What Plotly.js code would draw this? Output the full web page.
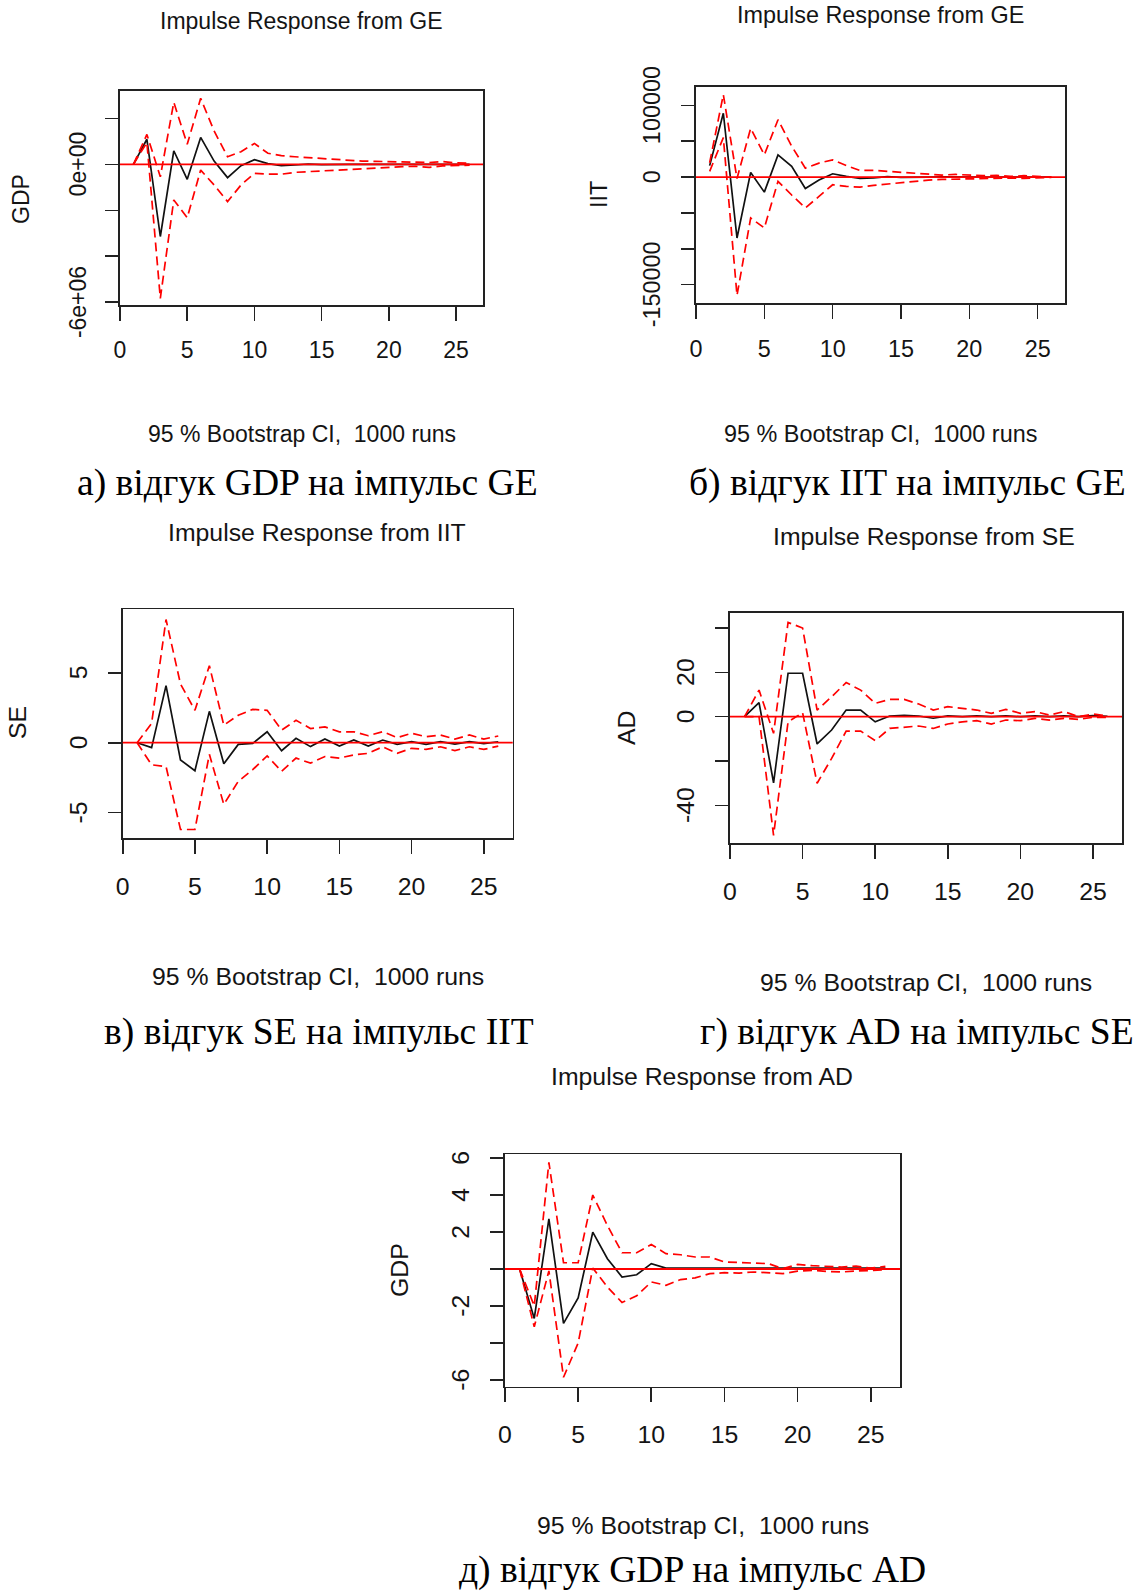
<!DOCTYPE html>
<html><head><meta charset="utf-8">
<script src="https://cdn.plot.ly/plotly-3.0.1.min.js"></script>
<style>html,body{margin:0;padding:0;background:#fff;overflow:hidden}#chart{width:1140px;height:1591px}</style>
</head><body><div id="chart"></div>
<script>
// ---------- data ----------
const horizon = [1,2,3,4,5,6,7,8,9,10,11,12,13,14,15,16,17,18,19,20,21,22,23,24,25,26];
const xTickVals = [0,5,10,15,20,25];

// a) GDP response to GE impulse
const irfGdpGe   = [0,1090000,-3140000,590000,-650000,1170000,140000,-580000,-60000,200000,30000,-60000,-30000,10000,-10000,10000,0,0,5000,0,0,0,0,0,0,0];
const upperGdpGe = [0,1300000,-540000,2700000,870000,2870000,1450000,330000,550000,910000,480000,380000,330000,290000,260000,190000,160000,140000,130000,120000,110000,120000,80000,120000,60000,50000];
const lowerGdpGe = [0,950000,-5830000,-1550000,-2320000,-250000,-900000,-1620000,-900000,-390000,-430000,-430000,-350000,-320000,-290000,-250000,-220000,-170000,-140000,-130000,-100000,-90000,-130000,-70000,-60000,-40000];
const yTickValsGdpGe = [-6000000,-4000000,-2000000,0,2000000];
const yTickTextGdpGe = ['-6e+06','','','0e+00',''];

// b) IIT response to GE impulse
const irfIitGe   = [16000,89000,-85000,6500,-21000,31000,15000,-16000,-4000,4600,1000,-2000,-1000,500,-300,300,0,200,-100,100,0,100,-100,0,100,0];
const upperIitGe = [20000,115000,-2000,68000,31000,80000,43000,12500,19500,24000,16000,9300,9300,8000,7400,6000,5000,2800,3700,2800,1900,2300,900,1900,1400,0];
const lowerIitGe = [8000,55000,-165000,-57000,-71000,-6000,-25000,-43000,-27000,-10700,-13000,-14000,-11600,-9700,-7400,-5600,-4200,-3300,-2800,-2300,-1900,-2300,-1400,-1900,-900,-500];
const yTickValsIitGe = [-150000,-100000,-50000,0,50000,100000];
const yTickTextIitGe = ['-150000','','','0','','100000'];

// c) SE response to IIT impulse
const irfSeIit   = [0,-0.35,4.08,-1.23,-2.0,2.24,-1.51,-0.12,-0.05,0.78,-0.57,0.31,-0.28,0.26,-0.24,0.19,-0.24,0.19,-0.12,0.07,-0.12,0.07,-0.1,0.07,-0.07,0.07];
const upperSeIit = [0,1.37,8.8,4.2,2.31,5.5,1.25,1.96,2.38,2.31,0.9,1.6,1.01,1.13,0.78,0.78,0.5,0.79,0.36,0.67,0.43,0.55,0.26,0.55,0.26,0.48];
const lowerSeIit = [0,-1.58,-1.7,-6.2,-6.2,-0.83,-4.41,-2.76,-1.93,-0.94,-2.05,-1.1,-1.46,-0.99,-1.1,-0.87,-0.76,-0.29,-0.76,-0.4,-0.48,-0.29,-0.57,-0.29,-0.48,-0.24];
const yTickValsSeIit = [-5,0,5];
const yTickTextSeIit = ['-5','0','5'];

// d) AD response to SE impulse
const irfAdSe   = [0,6.3,-29.8,19.6,19.6,-12.3,-6,3.0,3.0,-2.3,0.3,0.6,0.3,-0.7,0.4,0,0.4,0,0.4,0,0.4,0,0.4,0,0.5,0.2];
const upperAdSe = [0,12.0,-7.5,42.5,40,3.0,9.0,15.4,12.0,6.0,7.8,7.8,5.7,3.0,4.5,3.8,3.0,1.5,3.3,1.5,2.3,0.75,2.3,0,1.2,0.3];
const lowerAdSe = [0,0,-53.5,-2.3,1.8,-30,-18.8,-6.5,-6.5,-10.8,-5.3,-4.8,-4.2,-5.3,-3.3,-2.3,-1.8,-3.3,-1.5,-1.8,-0.75,-1.5,-0.75,-1.2,-0.3,-0.3];
const yTickValsAdSe = [-40,-20,0,20,40];
const yTickTextAdSe = ['-40','','0','20',''];

// e) GDP response to AD impulse
const irfGdpAd   = [0,-2.67,2.71,-2.94,-1.56,1.99,0.56,-0.43,-0.31,0.29,0.05,0.05,0.02,0.04,0.02,0.04,0.03,0.04,0.02,0.05,0.02,0.05,0.03,0.05,0.03,0.05];
const upperGdpAd = [0,-2.0,5.76,0.34,0.34,4.0,2.35,0.88,0.88,1.33,0.83,0.77,0.65,0.65,0.38,0.34,0.32,0.29,0.02,0.25,0.18,0.14,0.11,0.16,0.05,0.14];
const lowerGdpAd = [0,-3.12,-0.1,-5.85,-4.0,0.05,-0.97,-1.81,-1.45,-0.70,-0.88,-0.57,-0.48,-0.25,-0.2,-0.22,-0.16,-0.22,-0.25,-0.11,-0.07,-0.13,-0.16,-0.11,-0.07,-0.04];
const yTickValsGdpAd = [-6,-4,-2,0,2,4,6];
const yTickTextGdpAd = ['-6','','-2','','2','4','6'];

const titles = ['Impulse Response from GE','Impulse Response from GE','Impulse Response from IIT','Impulse Response from SE','Impulse Response from AD'];
const yLabels = ['GDP','IIT','SE','AD','GDP'];
const ciText = '95 % Bootstrap CI,  1000 runs';
const captions = ['а) відгук GDP на імпульс GE','б) відгук IIT на імпульс GE','в) відгук SE на імпульс IIT','г) відгук AD на імпульс SE','д) відгук GDP на імпульс AD'];

// ---------- layout (pixel geometry) ----------
const W = 1140, H = 1591;
const fx = x => x / W, fy = y => 1 - y / H;
const panels = [
  {irf:irfGdpGe, up:upperGdpGe, lo:lowerGdpGe, tv:yTickValsGdpGe, tt:yTickTextGdpGe, yr:[-6120000,3190000],
   box:[120,91,483,305], fs:23, xso:10, yso:10, title:[301,20.5], ylab:[21,199], ci:[302,434], cap:[307,483]},
  {irf:irfIitGe, up:upperIitGe, lo:lowerIitGe, tv:yTickValsIitGe, tt:yTickTextIitGe, yr:[-176000,126000],
   box:[696,86.7,1065,303.3], fs:23.4, xso:10, yso:12, title:[880,14.5], ylab:[599,195], ci:[880,434], cap:[907,483]},
  {irf:irfSeIit, up:upperSeIit, lo:lowerSeIit, tv:yTickValsSeIit, tt:yTickTextSeIit, yr:[-6.83,9.53],
   box:[122.7,609.3,512.7,838.3], fs:24.8, xso:11, yso:11, title:[317,532], ylab:[18,723], ci:[318,977], cap:[319,1031.5]},
  {irf:irfAdSe, up:upperAdSe, lo:lowerAdSe, tv:yTickValsAdSe, tt:yTickTextAdSe, yr:[-57.1,46.9],
   box:[730,612.7,1122,843.3], fs:24.8, xso:11, yso:11, title:[924,536], ylab:[626,728], ci:[926,983], cap:[917,1031.5]},
  {irf:irfGdpAd, up:upperGdpAd, lo:lowerGdpAd, tv:yTickValsGdpAd, tt:yTickTextGdpAd, yr:[-6.36,6.2],
   box:[505,1154.3,900,1386.7], fs:24.8, xso:11, yso:11, title:[702,1076.5], ylab:[399,1270], ci:[703,1525.5], cap:[692,1570]}
];

const sans = 'Liberation Sans, Arial, sans-serif';
const serif = 'Liberation Serif, Times New Roman, serif';
const ink = '#141414';
const NB = '\u00a0';
const traces = [], shapes = [], annotations = [];
const layout = {width:W, height:H, margin:{l:0,r:0,t:0,b:0}, paper_bgcolor:'#fff', plot_bgcolor:'#fff', showlegend:false};

panels.forEach((p, i) => {
  const n = i === 0 ? '' : String(i + 1);
  const xa = 'x' + n, ya = 'y' + n;
  const [l, t, r, b] = p.box;
  layout['xaxis' + n] = {
    domain:[fx(l), fx(r)], range:[0,27], anchor:ya, tickmode:'array', tickvals:xTickVals,
    ticks:'outside', ticklen:14, tickwidth:1.6, tickcolor:'#222', ticklabelstandoff:p.xso,
    showline:true, linecolor:'#222', linewidth:1.7, mirror:true, showgrid:false, zeroline:false,
    tickfont:{family:sans, size:p.fs, color:ink}, fixedrange:true
  };
  layout['yaxis' + n] = {
    domain:[fy(b), fy(t)], range:p.yr, anchor:xa, tickmode:'array', tickvals:p.tv,
    ticktext:p.tt.map(s => s ? s + NB : s), tickangle:-90,
    ticks:'outside', ticklen:13, tickwidth:1.6, tickcolor:'#222', ticklabelstandoff:p.yso,
    showline:true, linecolor:'#222', linewidth:1.7, mirror:true, showgrid:false, zeroline:false,
    tickfont:{family:sans, size:p.fs, color:ink}, fixedrange:true
  };
  traces.push({x:horizon, y:p.irf, xaxis:xa, yaxis:ya, type:'scatter', mode:'lines', line:{color:'#111', width:1.7}, hoverinfo:'skip'});
  traces.push({x:horizon, y:p.up, xaxis:xa, yaxis:ya, type:'scatter', mode:'lines', line:{color:'#ff0000', width:1.7, dash:'9px,5px'}, hoverinfo:'skip'});
  traces.push({x:horizon, y:p.lo, xaxis:xa, yaxis:ya, type:'scatter', mode:'lines', line:{color:'#ff0000', width:1.7, dash:'9px,5px'}, hoverinfo:'skip'});
  shapes.push({type:'line', xref:xa + ' domain', yref:ya, x0:0, x1:1, y0:0, y1:0, line:{color:'#ff0000', width:1.8}, layer:'above'});

  annotations.push({text:titles[i], xref:'paper', yref:'paper', x:fx(p.title[0]), y:fy(p.title[1]), xanchor:'center', yanchor:'middle', showarrow:false, font:{family:sans, size:p.fs, color:ink}});
  annotations.push({text:yLabels[i], xref:'paper', yref:'paper', x:fx(p.ylab[0]), y:fy(p.ylab[1]), xanchor:'center', yanchor:'middle', textangle:-90, showarrow:false, font:{family:sans, size:p.fs, color:ink}});
  annotations.push({text:ciText, xref:'paper', yref:'paper', x:fx(p.ci[0]), y:fy(p.ci[1]), xanchor:'center', yanchor:'middle', showarrow:false, font:{family:sans, size:p.fs, color:ink}});
  annotations.push({text:captions[i], xref:'paper', yref:'paper', x:fx(p.cap[0]), y:fy(p.cap[1]), xanchor:'center', yanchor:'middle', showarrow:false, font:{family:serif, size:37.6, color:'#000'}});
});
layout.shapes = shapes;
layout.annotations = annotations;

Plotly.newPlot('chart', traces, layout, {displayModeBar:false, staticPlot:true});
</script>
</body></html>
